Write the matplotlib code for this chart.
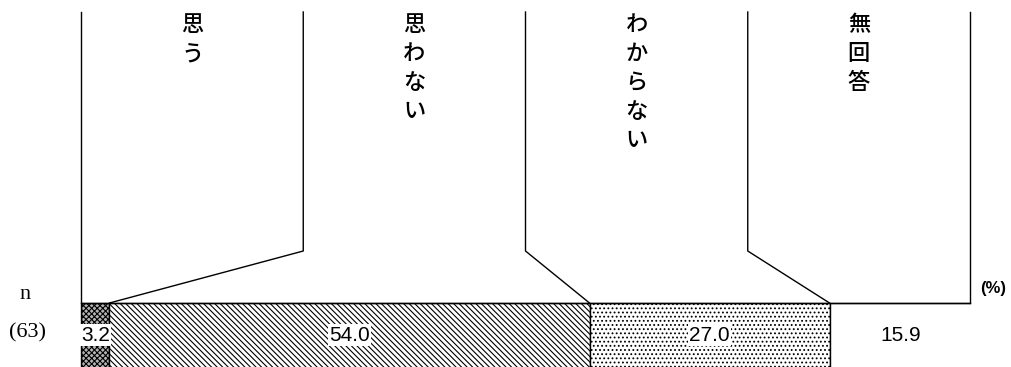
import numpy as np
import matplotlib
matplotlib.use('Agg')
import matplotlib.pyplot as plt

# データ
categories = ['思う', '思わない', 'わからない', '無回答']
values = [3.2, 54.0, 27.0, 15.9]
n_label = '(63)'

plt.rcParams['font.family'] = ['Noto Sans CJK JP', 'DejaVu Sans']
plt.rcParams['hatch.linewidth'] = 0.8

fig = plt.figure(figsize=(10.11, 3.67), dpi=100)
ax = fig.add_axes([81 / 1011, 0, 889 / 1011, 355 / 367])
ax.set_xlim(0, 100)
ax.set_ylim(-0.5, 5.047)
ax.axis('off')

fills = ['#b4b4b4', 'white', 'white', 'white']
hatches = ['xxxxxx', '\\' * 6, '....', None]
lefts = np.concatenate([[0], np.cumsum(values)[:-1]])
bars = ax.barh(-0.05, values, left=lefts, height=1.1, color=fills,
               edgecolor='black', linewidth=1.0)
for b, h in zip(bars, hatches):
    if h:
        b.set_hatch(h)

# 数値ラベル
for b, v in zip(bars, values):
    cx = b.get_x() + b.get_width() / 2
    ax.text(cx, 0, f'{v:.1f}', ha='center', va='center', fontsize=15,
            family='Liberation Sans',
            bbox=dict(boxstyle='square,pad=0.05', fc='white', ec='none'))

# 見出しの枠と引き出し線
top = 5.047
box_bottom = 1.3125
bar_top = 0.5
ncol = len(categories)
edges = np.cumsum(values)
ax.plot([0, 0], [top, -0.5], color='black', lw=1.0, clip_on=False)
ax.plot([100, 100], [top, bar_top], color='black', lw=1.0, clip_on=False)
ax.plot([0, 100], [bar_top, bar_top], color='black', lw=1.0, clip_on=False)
for i in range(1, ncol):
    xc = 100 * i / ncol
    ax.plot([xc, xc, edges[i - 1]], [top, box_bottom, bar_top],
            color='black', lw=1.0, clip_on=False)

for i, c in enumerate(categories):
    xc = 100 * (i + 0.5) / ncol
    ax.text(xc, 5.03, '\n'.join(c), ha='center', va='top', fontsize=16,
            linespacing=1.33, fontweight='medium')

ax.text(-6.3, 0.64, 'n', ha='center', va='center', fontsize=16,
        family='Liberation Serif')
ax.text(-6.0, 0.04, n_label, ha='center', va='center', fontsize=16,
        family='Liberation Serif')
ax.text(102.6, 0.73, '(%)', ha='center', va='center', fontsize=12,
        family='Liberation Sans', fontweight='bold')

fig.savefig('out.png', dpi=100)
